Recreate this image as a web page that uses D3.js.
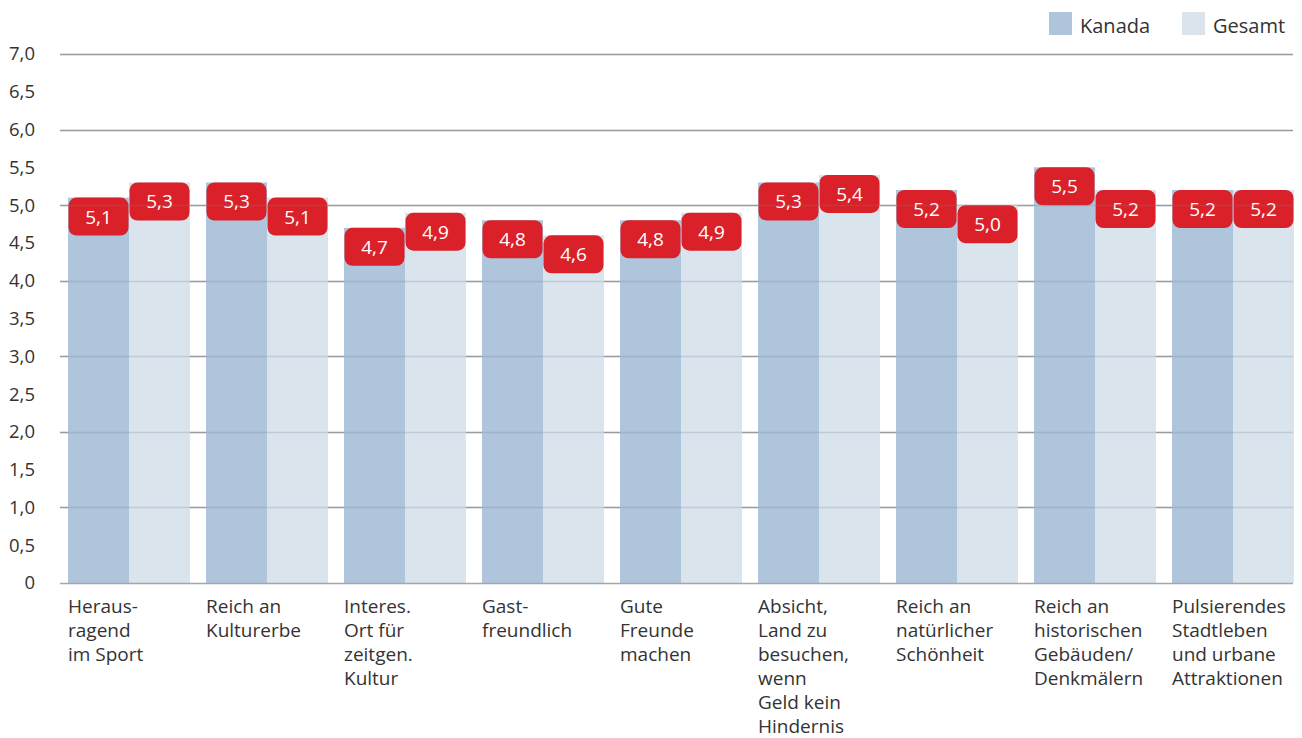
<!DOCTYPE html>
<html>
<head>
<meta charset="utf-8">
<script src="https://cdn.jsdelivr.net/npm/d3@7"></script>
<style>
  body { margin: 0; background: #fff; }
  text { font-family: "Open Sans", sans-serif; }
</style>
</head>
<body>
<div id="chart"></div>
<script>
// data
const categories = [
  ["Heraus-", "ragend", "im Sport"],
  ["Reich an", "Kulturerbe"],
  ["Interes.", "Ort für", "zeitgen.", "Kultur"],
  ["Gast-", "freundlich"],
  ["Gute", "Freunde", "machen"],
  ["Absicht,", "Land zu", "besuchen,", "wenn", "Geld kein", "Hindernis"],
  ["Reich an", "natürlicher", "Schönheit"],
  ["Reich an", "historischen", "Gebäuden/", "Denkmälern"],
  ["Pulsierendes", "Stadtleben", "und urbane", "Attraktionen"]
];
const seriesNames = ["Kanada", "Gesamt"];
const kanada = [5.1, 5.3, 4.7, 4.8, 4.8, 5.3, 5.2, 5.5, 5.2];
const gesamt = [5.3, 5.1, 4.9, 4.6, 4.9, 5.4, 5.0, 5.2, 5.2];
const yTicks = [0, 0.5, 1, 1.5, 2, 2.5, 3, 3.5, 4, 4.5, 5, 5.5, 6, 6.5, 7];
const gridTicks = [1, 2, 3, 4, 5, 6, 7];

const colors = ["#afc5dc", "#dae4ed"];
const red = "#da2129";

const width = 1302, height = 738;
const svg = d3.select("#chart").append("svg")
  .attr("width", width).attr("height", height);

const fmt = v => v === 0 ? "0" : d3.format(".1f")(v).replace(".", ",");

const y = d3.scaleLinear().domain([0, 7]).range([583, 54]);
const keys = categories.map((c, i) => i);
const x0 = d3.scaleBand().domain(keys).range([60, 1302])
  .paddingInner(16 / 138).paddingOuter(8 / 138);
const x1 = d3.scaleBand().domain(seriesNames).range([0, x0.bandwidth()]);

const rows = keys.map(i => ({ i, values: [kanada[i], gesamt[i]] }));

// grid lines under bars
svg.append("g").selectAll("line").data(gridTicks).join("line")
  .attr("x1", 60).attr("x2", 1293)
  .attr("y1", d => Math.round(y(d)) + 0.5).attr("y2", d => Math.round(y(d)) + 0.5)
  .attr("stroke", "#a6a6a6").attr("stroke-width", 1.3);

// y tick labels
svg.append("g").selectAll("text").data(yTicks).join("text")
  .attr("x", 35).attr("y", d => y(d))
  .attr("dy", "0.35em")
  .attr("text-anchor", "end")
  .attr("fill", "#333")
  .style("font-size", "18.5px")
  .text(fmt);

// bars
const groups = svg.append("g").selectAll("g").data(rows).join("g")
  .attr("transform", d => `translate(${x0(d.i)},0)`);

groups.selectAll("rect.bar")
  .data(d => d.values.map((v, k) => ({ key: seriesNames[k], k, v })))
  .join("rect").attr("class", "bar")
  .attr("x", d => x1(d.key)).attr("width", x1.bandwidth())
  .attr("y", d => y(d.v)).attr("height", d => y(0) - y(d.v))
  .attr("fill", d => colors[d.k]);

// faint grid lines over the bars
svg.append("g").selectAll("line").data(gridTicks).join("line")
  .attr("x1", 60).attr("x2", 1293)
  .attr("y1", d => Math.round(y(d)) + 0.5).attr("y2", d => Math.round(y(d)) + 0.5)
  .attr("stroke", "#6f8196").attr("stroke-opacity", 0.25).attr("stroke-width", 1.3);

// base line
svg.append("line")
  .attr("x1", 60).attr("x2", 1293)
  .attr("y1", y(0) + 0.5).attr("y2", y(0) + 0.5)
  .attr("stroke", "#a6a6a6").attr("stroke-width", 1.3);

// red value boxes
const lab = groups.selectAll("g.lab")
  .data(d => d.values.map((v, k) => ({ key: seriesNames[k], k, v })))
  .join("g").attr("class", "lab")
  .attr("transform", d => `translate(${x1(d.key)},${y(d.v)})`);

lab.append("rect")
  .attr("x", 0.5).attr("y", 0)
  .attr("width", x1.bandwidth() - 1).attr("height", 38)
  .attr("rx", 8).attr("ry", 8)
  .attr("fill", red);

lab.append("text")
  .attr("x", x1.bandwidth() / 2).attr("y", 26)
  .attr("text-anchor", "middle")
  .attr("fill", "#fff")
  .style("font-size", "19px")
  .text(d => fmt(d.v));

// category labels
groups.append("text")
  .attr("fill", "#333")
  .style("font-size", "19px")
  .selectAll("tspan").data(d => categories[d.i])
  .join("tspan")
  .attr("x", 0)
  .attr("y", (d, j) => 613 + j * 24)
  .text(d => d);

// legend
const legend = svg.append("g").selectAll("g").data(seriesNames).join("g")
  .attr("transform", (d, k) => `translate(${[1049, 1182][k]},12)`);
legend.append("rect").attr("width", 23).attr("height", 23)
  .attr("fill", (d, k) => colors[k]);
legend.append("text").attr("x", 31).attr("y", 21)
  .attr("fill", "#333").style("font-size", "20px")
  .text(d => d);
</script>
</body>
</html>
